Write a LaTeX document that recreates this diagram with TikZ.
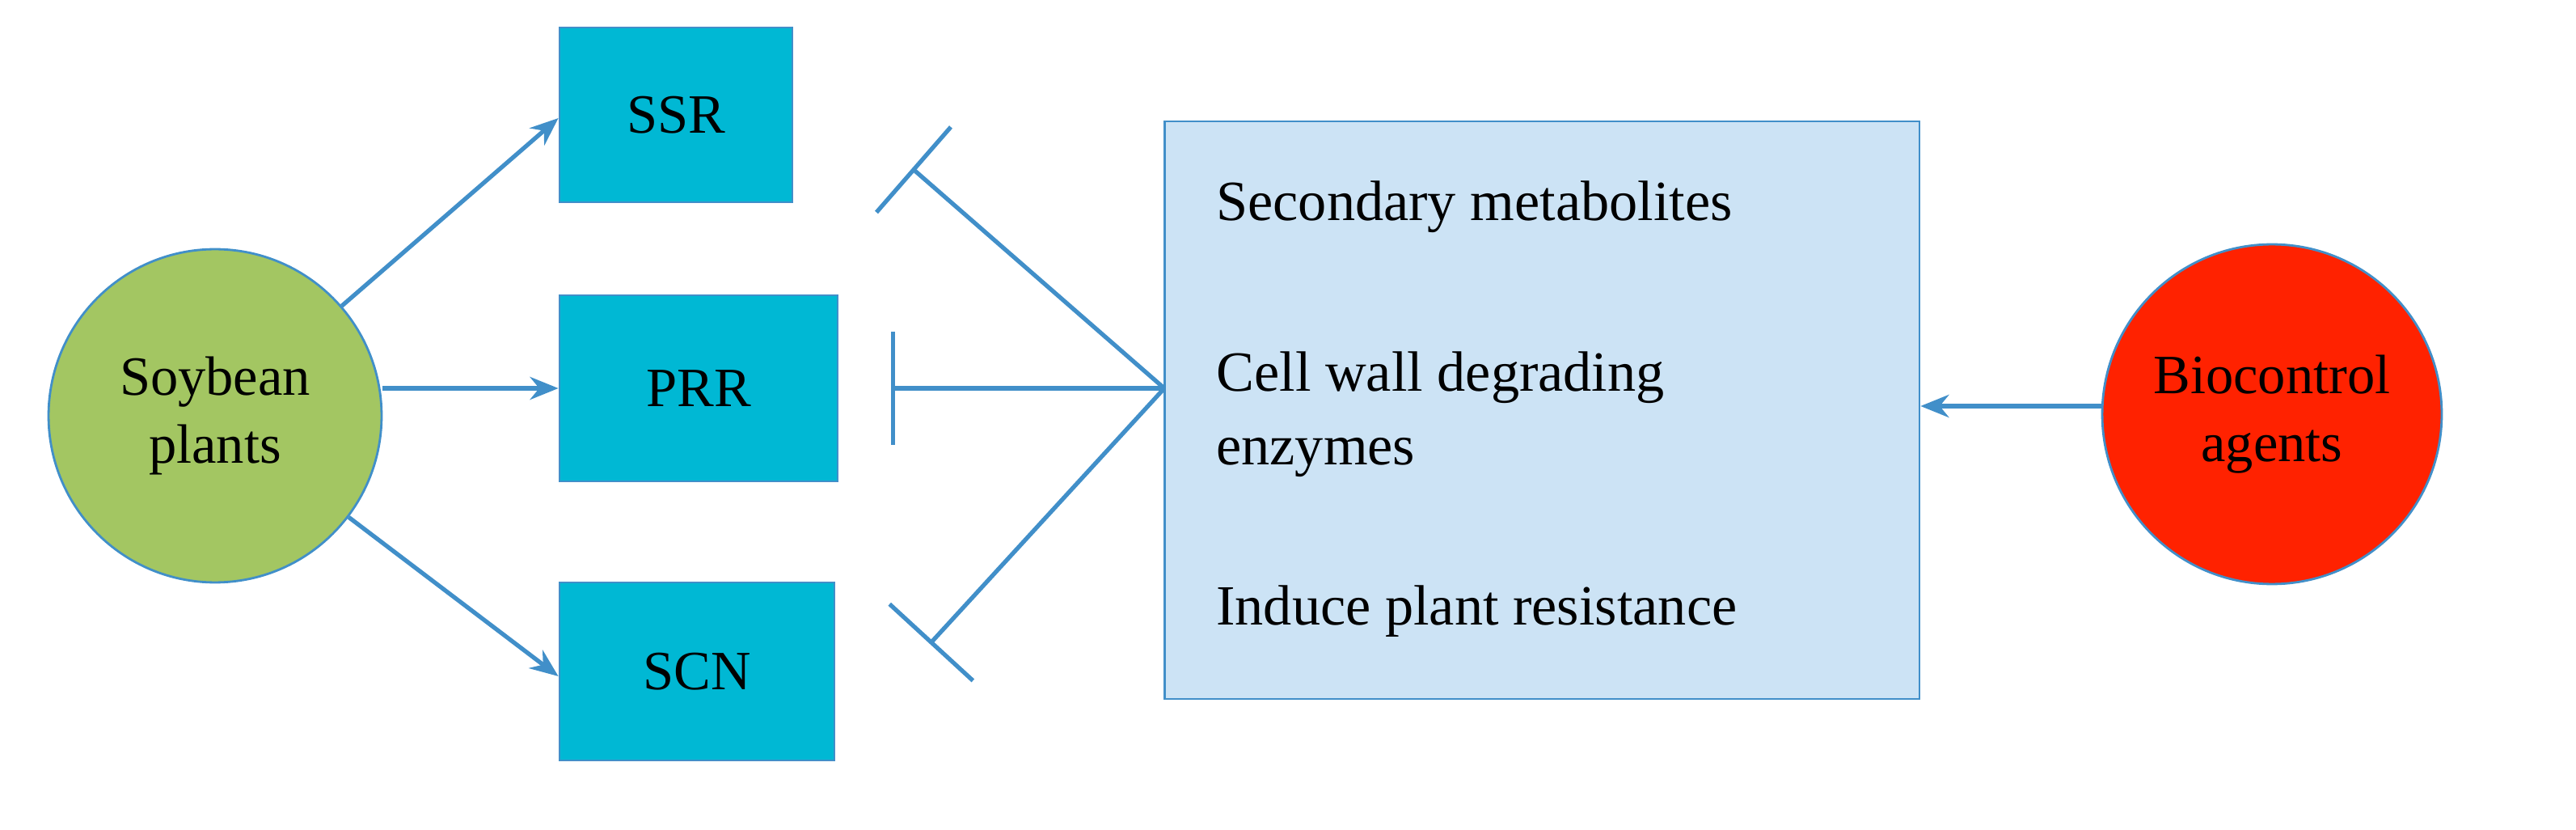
\documentclass[tikz,border=0pt]{standalone}
\usepackage{fontspec}
\setmainfont{Liberation Serif}
\usetikzlibrary{arrows.meta}
\definecolor{arr}{RGB}{65,143,201}
\definecolor{green}{RGB}{163,198,98}
\definecolor{cyanbox}{RGB}{0,184,212}
\definecolor{bigbox}{RGB}{204,227,245}
\definecolor{redc}{RGB}{255,34,0}
\begin{document}
\begin{tikzpicture}[x=0.02cm,y=-0.02cm,
  circ/.style={circle,draw=arr,line width=0.8pt,minimum size=4.12cm,align=center,font=\fontsize{19.5}{24}\selectfont},
  box/.style={rectangle,draw=arr,line width=0.8pt,fill=cyanbox,font=\fontsize{19.5}{24}\selectfont},
  arrow/.style={draw=arr,line width=1.5pt,-{Stealth[length=10pt,width=8pt]}},
  inhib/.style={draw=arr,line width=1.5pt,-{Bar[width=1.4cm,line width=1.5pt]}},
  txt/.style={anchor=west,font=\fontsize{20}{26}\selectfont,align=left}]
\useasboundingbox (0,0) rectangle (1593,513);
\node[circ,fill=green] (soy) at (133,257) {Soybean\\plants};
\node[circ,fill=redc,minimum size=4.2cm] (bio) at (1405,256) {Biocontrol\\agents};
\node[box,minimum width=2.88cm,minimum height=2.16cm] (ssr) at (418,71) {SSR};
\node[box,minimum width=3.44cm,minimum height=2.3cm] (prr) at (432,240) {PRR};
\node[box,minimum width=3.4cm,minimum height=2.2cm] (scn) at (431,415) {SCN};
\node[rectangle,draw=arr,line width=0.8pt,fill=bigbox,minimum width=9.34cm,minimum height=7.14cm] (big) at (953.5,253.5) {};
\node[txt] (t1) at (746,128) {Secondary metabolites};
\node[txt] (t2) at (746,256) {Cell wall degrading\\enzymes};
\node[txt] (t3) at (746,378) {Induce plant resistance};
\coordinate (hub) at (720,240);
\coordinate (e1) at (564,104);
\coordinate (e2) at (551,240);
\coordinate (e3) at (575,398);
\draw[arrow] (soy) -- (ssr.west |- 0,73);
\draw[arrow] (soy.east |- 0,240) -- (prr.west |- 0,240);
\draw[arrow] (soy) -- (scn.west |- 0,418);
\draw[inhib] (hub) -- (e1);
\draw[inhib] (hub) -- (e2);
\draw[inhib] (hub) -- (e3);
\draw[arrow] (bio.west |- 0,251) -- (big.east |- 0,251);
\end{tikzpicture}
\end{document}
